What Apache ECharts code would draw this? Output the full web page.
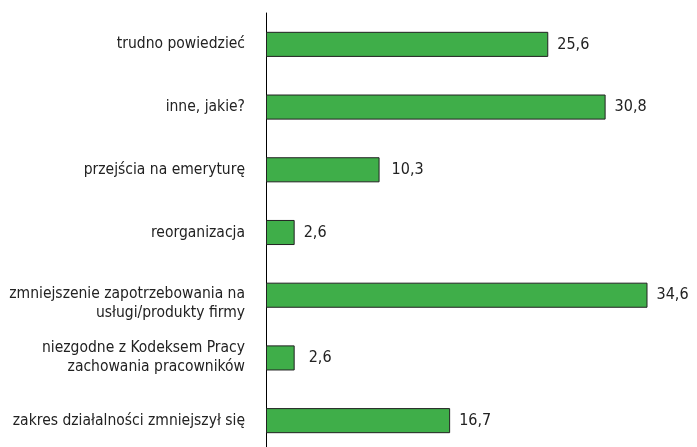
<!DOCTYPE html>
<html>
<head>
<meta charset="utf-8">
<script src="https://cdn.jsdelivr.net/npm/echarts@6/dist/echarts.min.js"></script>
<style>
    html, body { margin: 0; padding: 0; background: #fff; }
    #chart { width: 697px; height: 447px; }
</style>
</head>
<body>
<div id="chart"></div>
<script>
    // categories, top to bottom
    var categories = [
        'trudno powiedzieć',
        'inne, jakie?',
        'przejścia na emeryturę',
        'reorganizacja',
        'zmniejszenie zapotrzebowania na\nusługi/produkty firmy',
        'niezgodne z Kodeksem Pracy\nzachowania pracowników',
        'zakres działalności zmniejszył się'
    ];
    var values = [25.6, 30.8, 10.3, 2.6, 34.6, 2.6, 16.7];

    var fontName = '"DejaVu Sans Condensed", "Liberation Sans Narrow", sans-serif';

    var myChart = echarts.init(document.getElementById('chart'));
    var option = {
        animation: false,
        grid: {
            left: 266,
            top: 13,
            width: 419,
            height: 439,
            containLabel: false,
            outerBoundsMode: 'none'
        },
        xAxis: {
            type: 'value',
            min: 0,
            max: 38,
            show: false
        },
        yAxis: {
            type: 'category',
            inverse: true,
            data: categories,
            axisLine: { show: true, lineStyle: { color: '#000', width: 1 } },
            axisTick: { show: false },
            axisLabel: {
                margin: 21,
                color: '#222',
                fontFamily: fontName,
                fontSize: 15.5,
                lineHeight: 19,
                align: 'right',
                formatter: function (value, idx) {
                    // the long label sits a bit lower than its bar
                    if (idx === 4) {
                        var parts = value.split('\n');
                        return '{sp| }\n{n|' + parts[0] + '}\n{n|' + parts[1] + '}';
                    }
                    return value;
                },
                rich: {
                    sp: {
                        fontSize: 1,
                        lineHeight: 16
                    },
                    n: {
                        fontFamily: fontName,
                        fontSize: 15.5,
                        lineHeight: 19,
                        color: '#222'
                    }
                }
            },
            splitLine: { show: false }
        },
        series: [
            {
                type: 'bar',
                data: values.map(function (v, i) {
                    if (i === 5) return { value: v, label: { distance: 14 } };
                    if (i === 2) return { value: v, label: { distance: 12 } };
                    return v;
                }),
                barCategoryGap: '60%',
                itemStyle: {
                    color: '#3FAE49',
                    borderColor: '#222',
                    borderWidth: 1
                },
                label: {
                    show: true,
                    position: 'right',
                    distance: 9,
                    color: '#222',
                    fontFamily: fontName,
                    fontSize: 16,
                    formatter: function (p) {
                        return p.value.toFixed(1).replace('.', ',');
                    }
                }
            }
        ]
    };
    myChart.setOption(option);
</script>
</body>
</html>
